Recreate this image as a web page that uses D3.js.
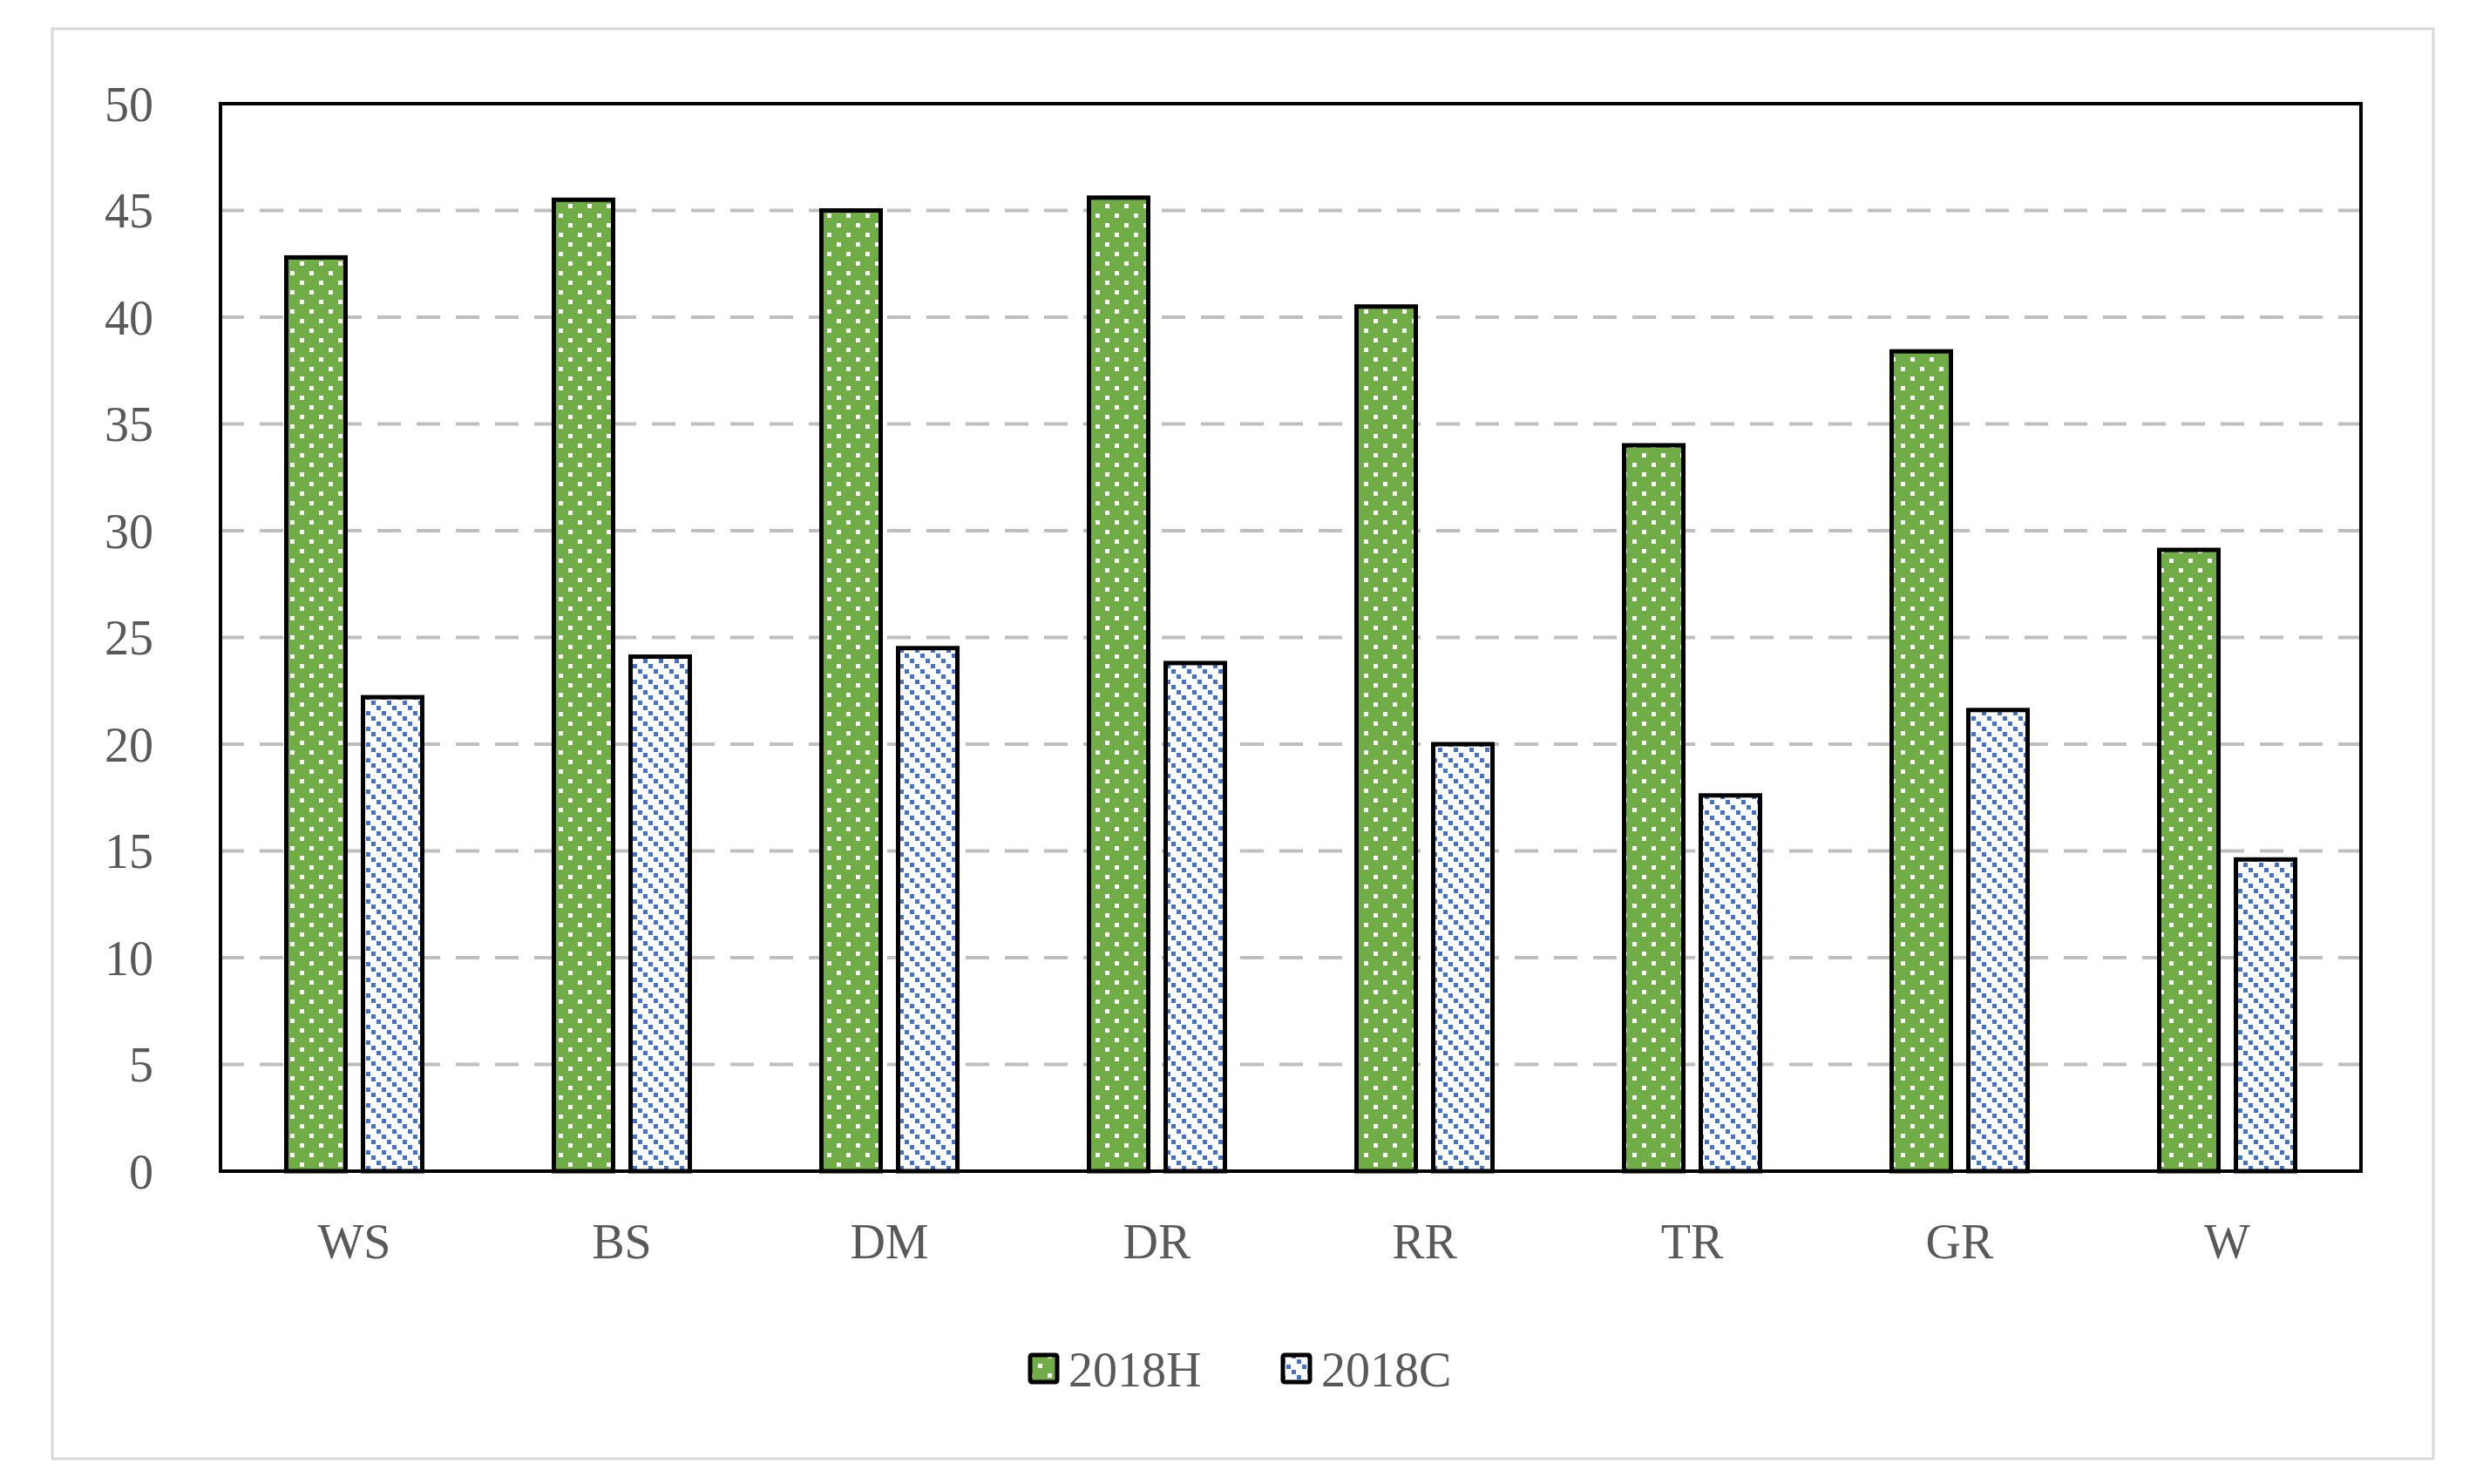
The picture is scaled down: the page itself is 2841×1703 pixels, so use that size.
<!DOCTYPE html>
<html><head><meta charset="utf-8">
<script src="https://cdn.jsdelivr.net/npm/d3@7"></script>
<style>body{margin:0;background:#fff}</style>
</head><body>
<svg id="chart" width="2841" height="1703"></svg>
<script>
// chart data
var categories = ["WS", "BS", "DM", "DR", "RR", "TR", "GR", "W"];
var series = ["2018H", "2018C"];
var valuesH = [42.8, 45.5, 45.0, 45.6, 40.5, 34.0, 38.4, 29.1];
var valuesC = [22.2, 24.1, 24.5, 23.8, 20.0, 17.6, 21.6, 14.6];
var yTicks = [0, 5, 10, 15, 20, 25, 30, 35, 40, 45, 50];

var svg = d3.select("#chart");
var font = "'Liberation Serif', 'Times New Roman', serif";
var plotLeft = 253, plotRight = 2709, plotTop = 119, plotBottom = 1344;

// patterns
var defs = svg.append("defs");
var pH = defs.append("pattern").attr("id", "patH").attr("patternUnits", "userSpaceOnUse")
  .attr("width", 22).attr("height", 22);
pH.append("rect").attr("width", 22).attr("height", 22).attr("fill", "#70ad47");
pH.append("rect").attr("x", 3).attr("y", 3).attr("width", 5).attr("height", 5).attr("fill", "#fff");
pH.append("rect").attr("x", 14).attr("y", 14).attr("width", 5).attr("height", 5).attr("fill", "#fff");

var pC = defs.append("pattern").attr("id", "patC").attr("patternUnits", "userSpaceOnUse")
  .attr("width", 18).attr("height", 18);
pC.append("rect").attr("width", 18).attr("height", 18).attr("fill", "#fff");
[0, 6, 12].forEach(function(d) {
  pC.append("rect").attr("x", d).attr("y", d).attr("width", 5).attr("height", 5).attr("fill", "#4472c4");
});

// outer frame
svg.append("rect").attr("x", 60).attr("y", 33).attr("width", 2732).attr("height", 1641)
  .attr("fill", "#fff").attr("stroke", "#d9d9d9").attr("stroke-width", 3);

var x = d3.scaleBand().domain(categories).range([plotLeft, plotRight]);
var y = d3.scaleLinear().domain([0, 50]).range([plotBottom, plotTop]);

// gridlines
svg.selectAll(".grid").data(yTicks.slice(1, -1)).enter().append("line")
  .attr("x1", plotLeft).attr("x2", plotRight).attr("y1", d => y(d)).attr("y2", d => y(d))
  .attr("stroke", "#bfbfbf").attr("stroke-width", 4).attr("stroke-dasharray", "27,18");

// y labels
svg.selectAll(".ylab").data(yTicks).enter().append("text")
  .attr("x", 176).attr("y", d => y(d)).attr("dy", "0.35em").attr("text-anchor", "end")
  .attr("font-family", font).attr("font-size", 56).attr("fill", "#595959").text(d => d);

// bars
var barW = 68, off = 44;
function drawBars(vals, dx, fill) {
  svg.selectAll(null).data(vals).enter().append("rect")
    .attr("x", (d, i) => x(categories[i]) + x.bandwidth() / 2 + dx - barW / 2)
    .attr("y", d => y(d)).attr("width", barW).attr("height", d => plotBottom - y(d))
    .attr("fill", fill).attr("stroke", "#000").attr("stroke-width", 5);
}
drawBars(valuesH, -off, "url(#patH)");
drawBars(valuesC, off, "url(#patC)");

// plot frame
svg.append("rect").attr("x", plotLeft).attr("y", plotTop).attr("width", plotRight - plotLeft)
  .attr("height", plotBottom - plotTop)
  .attr("fill", "none").attr("stroke", "#000").attr("stroke-width", 4);

// x labels
svg.selectAll(".xlab").data(categories).enter().append("text")
  .attr("x", d => x(d) + x.bandwidth() / 2).attr("y", 1424).attr("dy", "0.35em").attr("text-anchor", "middle")
  .attr("font-family", font).attr("font-size", 56).attr("fill", "#595959").text(d => d);

// legend
var legX = [1182, 1472], legFill = ["url(#patH)", "url(#patC)"];
series.forEach(function(s, i) {
  svg.append("rect").attr("x", legX[i]).attr("y", 1555).attr("width", 31).attr("height", 31)
    .attr("fill", legFill[i]).attr("stroke", "#000").attr("stroke-width", 5).attr("rx", 2);
  svg.append("text").attr("x", legX[i] + 44).attr("y", 1571).attr("dy", "0.35em")
    .attr("font-family", font).attr("font-size", 56).attr("fill", "#595959").text(s);
});
</script>
</body></html>
